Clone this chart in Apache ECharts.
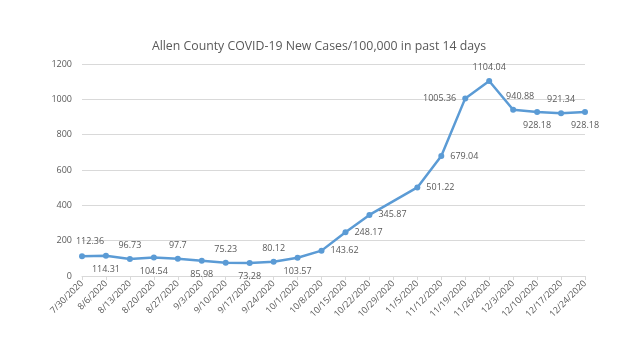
<!DOCTYPE html>
<html><head><meta charset="utf-8">
<script src="https://cdn.jsdelivr.net/npm/echarts@6/dist/echarts.min.js"></script>
<style>html,body{margin:0;padding:0;background:#fff}#c{width:638px;height:344px}</style>
</head><body><div id="c"></div>
<script>
const categories = ['7/30/2020','8/6/2020','8/13/2020','8/20/2020','8/27/2020','9/3/2020','9/10/2020','9/17/2020','9/24/2020','10/1/2020','10/8/2020','10/15/2020','10/22/2020','10/29/2020','11/5/2020','11/12/2020','11/19/2020','11/26/2020','12/3/2020','12/10/2020','12/17/2020','12/24/2020'];
const casesPer100k = [112.36,114.31,96.73,104.54,97.7,85.98,75.23,73.28,80.12,103.57,143.62,248.17,345.87,null,501.22,679.04,1005.36,1104.04,940.88,928.18,921.34,928.18];
const yTicks = [0,200,400,600,800,1000,1200];
const labelPositions = ['top','bottom','top','bottom','top','bottom','top','bottom','top','bottom','right','right','right','right','right','right','left','top','top','bottom','top','bottom'];
const labelOffsets = {0:[8,-1],18:[7,0]};

const chart = echarts.init(document.getElementById('c'));
chart.setOption({
  animation:false,
  title:{text:'Allen County COVID-19 New Cases/100,000 in past 14 days',left:'center',top:35,
    textStyle:{fontFamily:'Open Sans',fontSize:12.3,fontWeight:'normal',color:'#595959'}},
  grid:{left:82,right:53,top:64,bottom:68},
  xAxis:{type:'category',data:categories,boundaryGap:false,
    axisLine:{lineStyle:{color:'#d9d9d9'}},
    axisTick:{show:true,lineStyle:{color:'#d9d9d9'},length:4},
    axisLabel:{rotate:45,fontSize:9,color:'#595959',fontFamily:'Open Sans',interval:0,margin:6}},
  yAxis:{type:'value',min:yTicks[0],max:yTicks[yTicks.length-1],interval:200,
    axisLine:{show:false},axisTick:{show:false},
    splitLine:{lineStyle:{color:'#d9d9d9'}},
    axisLabel:{fontSize:9,color:'#595959',fontFamily:'Open Sans',margin:10,formatter:v=>String(v)}},
  series:[{type:'line',connectNulls:true,
    data:casesPer100k.map((v,i)=>({value:v,label:Object.assign({position:labelPositions[i]},labelOffsets[i]?{offset:labelOffsets[i]}:{})})),
    symbol:'circle',symbolSize:6,
    lineStyle:{color:'#5b9bd5',width:2.5},itemStyle:{color:'#5b9bd5'},
    label:{show:true,fontSize:9,color:'#595959',fontFamily:'Open Sans',distance:6}}]
});
</script></body></html>
